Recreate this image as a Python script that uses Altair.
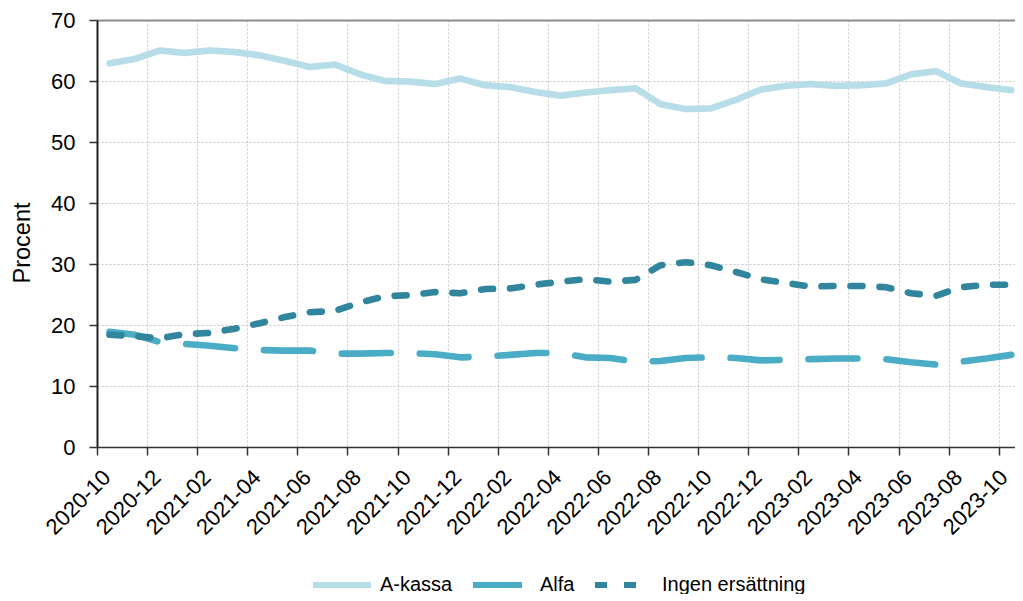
import altair as alt
import pandas as pd

# Months (categories)
months = []
for y in (2020, 2021, 2022, 2023):
    for m in range(1, 13):
        s = f"{y}-{m:02d}"
        if "2020-10" <= s <= "2023-10":
            months.append(s)

series_names = ["A-kassa", "Alfa", "Ingen ersättning"]
series_colors = ["#B7DDE8", "#4BACC6", "#31859C"]
series_dashes = [[1, 0], [49, 29], [12, 17]]

a_kassa = [62.9, 63.6, 65.0, 64.6, 65.0, 64.75, 64.2, 63.3, 62.3, 62.7,
           61.1, 60.0, 59.9, 59.5, 60.4, 59.3, 59.0, 58.2, 57.6, 58.1,
           58.5, 58.8, 56.2, 55.4, 55.5, 56.9, 58.6, 59.2, 59.5, 59.2,
           59.3, 59.6, 61.1, 61.6, 59.6, 59.0, 58.5]
alfa = [18.9, 18.4, 17.2, 16.9, 16.6, 16.2, 15.9, 15.8, 15.8, 15.3,
        15.3, 15.4, 15.4, 15.2, 14.7, 14.8, 15.1, 15.4, 15.4, 14.7,
        14.6, 14.0, 14.1, 14.6, 14.7, 14.6, 14.2, 14.3, 14.4, 14.5,
        14.5, 14.4, 13.9, 13.5, 14.0, 14.5, 15.1]
ingen = [18.4, 18.2, 17.8, 18.5, 18.7, 19.4, 20.3, 21.3, 22.1, 22.3,
         23.7, 24.7, 24.9, 25.4, 25.2, 25.9, 26.0, 26.6, 27.1, 27.5,
         27.1, 27.4, 29.8, 30.3, 29.8, 28.7, 27.5, 26.9, 26.3, 26.4,
         26.4, 26.2, 25.2, 24.8, 26.2, 26.6, 26.6]

y_ticks = [0, 10, 20, 30, 40, 50, 60, 70]

rows = []
for name, vals in zip(series_names, [a_kassa, alfa, ingen]):
    for i, v in enumerate(vals):
        rows.append({"idx": i, "month": months[i], "series": name, "value": v})
df = pd.DataFrame(rows)

n = len(months)
boundaries = [k - 0.5 for k in range(0, n, 2)]
label_arr = "[" + ",".join(f"'{m}'" for m in months) + "]"
last_boundary = boundaries[-1]

FONT = "Liberation Sans"

legend = alt.Legend(
    title=None,
    orient="none",
    legendX=213,
    legendY=533,
    direction="horizontal",
    symbolType="stroke",
    symbolSize=3364,
    symbolStrokeWidth=6,
    labelFontSize=20,
    labelFont=FONT,
    labelColor="black",
    labelOffset=6,
    columnPadding=8,
    padding=0,
)

chart = alt.Chart(df).mark_line(
    strokeWidth=6.6, strokeCap="round", strokeJoin="round"
).encode(
    x=alt.X(
        "idx:Q",
        scale=alt.Scale(domain=[-0.5, n - 0.85], nice=False, zero=False),
        axis=alt.Axis(
            values=boundaries,
            labelExpr=f"{label_arr}[datum.value + 0.5]",
            labelAngle=-45,
            labelAlign="right",
            labelBaseline="middle",
            labelOffset=alt.condition(f"datum.value == {last_boundary}", alt.value(5), alt.value(9.5)),
            labelPadding=18.5,
            labelOverlap=False,
            labelFlush=False,
            labelBound=False,
            labelFontSize=22,
            labelFont=FONT,
            labelColor="black",
            tickSize=8,
            tickColor="#333333",
            tickWidth=1.5,
            domainColor="#333333",
            domainWidth=1.5,
            grid=True,
            gridColor="#c8c8c8",
            gridDash=[2, 2],
            title=None,
        ),
    ),
    y=alt.Y(
        "value:Q",
        scale=alt.Scale(domain=[0, 70], nice=False),
        axis=alt.Axis(
            values=y_ticks,
            tickSize=8,
            tickColor="#333333",
            tickWidth=1.5,
            domainColor="#222222",
            domainWidth=2,
            labelPadding=14,
            labelFontSize=22,
            labelFont=FONT,
            labelColor="black",
            gridColor=alt.condition("datum.value == 70", alt.value("#8c8c8c"), alt.value("#c8c8c8")),
            gridDash=alt.condition("datum.value == 70", alt.value([1, 0]), alt.value([2, 2])),
            gridWidth=alt.condition("datum.value == 70", alt.value(2), alt.value(1)),
            title="Procent",
            titleFontSize=23.5,
            titleFont=FONT,
            titleFontWeight="normal",
            titleColor="black",
            titlePadding=16,
            titleY=222.5,
        ),
    ),
    color=alt.Color("series:N", scale=alt.Scale(domain=series_names, range=series_colors), legend=legend),
    strokeDash=alt.StrokeDash("series:N", scale=alt.Scale(domain=series_names, range=series_dashes), legend=legend),
).properties(
    width=918,
    height=427,
    autosize=alt.AutoSizeParams(type="none"),
    padding={"left": 89, "top": 12, "right": 0, "bottom": 147},
).configure_view(stroke=None)

chart.save("out.html", embed_options={"renderer": "svg", "actions": False})
